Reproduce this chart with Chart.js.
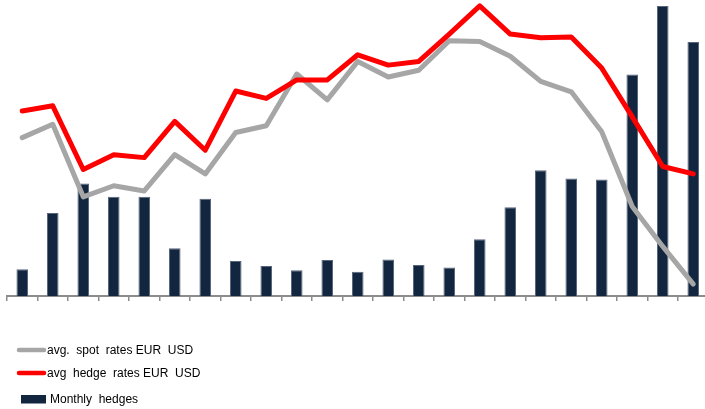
<!DOCTYPE html>
<html>
<head>
<meta charset="utf-8">
<title>EUR USD hedging</title>
<script src="https://cdn.jsdelivr.net/npm/chart.js@4.4.0/dist/chart.umd.min.js"></script>
<style>
  html, body { margin: 0; padding: 0; background: #fff; overflow: hidden; }
  #wrap { position: relative; width: 710px; height: 409px; }
</style>
</head>
<body>
<div id="wrap"><canvas id="hedgeChart"></canvas></div>
<script>
// month buckets (no labels are shown on the axis)
const months = [
  "2013-05", "2013-06", "2013-07", "2013-08", "2013-09", "2013-10",
  "2013-11", "2013-12", "2014-01", "2014-02", "2014-03", "2014-04",
  "2014-05", "2014-06", "2014-07", "2014-08", "2014-09", "2014-10",
  "2014-11", "2014-12", "2015-01", "2015-02", "2015-03"
];

const spotRates = [
  1.264, 1.282, 1.184, 1.199, 1.192, 1.241, 1.215, 1.271, 1.280, 1.350,
  1.315, 1.367, 1.346, 1.355, 1.395, 1.394, 1.374, 1.340, 1.326, 1.272,
  1.171, 1.117, 1.066
];

const hedgeRates = [
  1.300, 1.307, 1.221, 1.241, 1.237, 1.286, 1.247, 1.327, 1.317, 1.342,
  1.342, 1.376, 1.362, 1.367, 1.404, 1.442, 1.404, 1.399, 1.400, 1.358,
  1.292, 1.225, 1.215
];

const monthlyHedges = [
  270, 840, 1140, 1005, 1005, 485, 985, 355, 305, 260,
  365, 245, 370, 315, 290, 575, 900, 1275, 1190, 1180,
  2245, 2940, 2575
];

const seriesLabels = [
  "avg.  spot  rates EUR  USD",
  "avg  hedge  rates EUR  USD",
  "Monthly  hedges"
];

const GREY = "#a6a6a6";
const RED = "#ff0000";
const NAVY = "#13263f";

// legend stacked under the plot, one row per dataset
const stackedLegend = {
  id: "stackedLegend",
  afterDraw(chart) {
    const ctx = chart.ctx;
    const rows = [351, 374, 399.5];
    ctx.save();
    ctx.font = "12px 'Liberation Sans', Arial, sans-serif";
    ctx.textBaseline = "middle";
    chart.data.datasets.forEach((ds, i) => {
      const y = rows[i];
      if (ds.type === "line") {
        ctx.strokeStyle = ds.borderColor;
        ctx.lineWidth = 4.5;
        ctx.lineCap = "round";
        ctx.beginPath();
        ctx.moveTo(19, y - 1);
        ctx.lineTo(44, y - 1);
        ctx.stroke();
        ctx.fillStyle = "#000";
        ctx.fillText(ds.label, 47, y);
      } else {
        ctx.fillStyle = ds.backgroundColor;
        ctx.fillRect(21, y - 4.5, 25, 8.5);
        ctx.fillStyle = "#000";
        ctx.fillText(ds.label, 50, y);
      }
    });
    ctx.restore();
  }
};

new Chart(document.getElementById("hedgeChart"), {
  data: {
    labels: months,
    datasets: [
      {
        type: "line",
        label: seriesLabels[0],
        data: spotRates,
        yAxisID: "yRate",
        borderColor: GREY,
        borderWidth: 5,
        borderCapStyle: "round",
        borderJoinStyle: "round",
        pointRadius: 0,
        tension: 0,
        order: 1
      },
      {
        type: "line",
        label: seriesLabels[1],
        data: hedgeRates,
        yAxisID: "yRate",
        borderColor: RED,
        borderWidth: 5,
        borderCapStyle: "round",
        borderJoinStyle: "round",
        pointRadius: 0,
        tension: 0,
        order: 0
      },
      {
        type: "bar",
        label: seriesLabels[2],
        data: monthlyHedges,
        yAxisID: "yVolume",
        backgroundColor: NAVY,
        borderColor: "#56657b",
        borderWidth: 1,
        categoryPercentage: 1,
        barPercentage: 0.38,
        order: 2
      }
    ]
  },
  options: {
    responsive: true,
    maintainAspectRatio: false,
    animation: false,
    layout: { padding: { left: 7, right: 1.5, top: 0, bottom: 108 } },
    plugins: {
      legend: { display: false },
      tooltip: { enabled: false }
    },
    scales: {
      x: {
        offset: true,
        grid: {
          offset: true,
          drawOnChartArea: false,
          drawTicks: true,
          tickLength: 5,
          color: "#8c8c8c",
          lineWidth: 1.5
        },
        border: { display: true, color: "#8c8c8c", width: 2 },
        ticks: { display: false }
      },
      yVolume: {
        axis: "y",
        display: false,
        min: 0,
        max: 3000
      },
      yRate: {
        axis: "y",
        display: false,
        min: 1.05,
        max: 1.45
      }
    }
  },
  plugins: [stackedLegend]
});
</script>
</body>
</html>
